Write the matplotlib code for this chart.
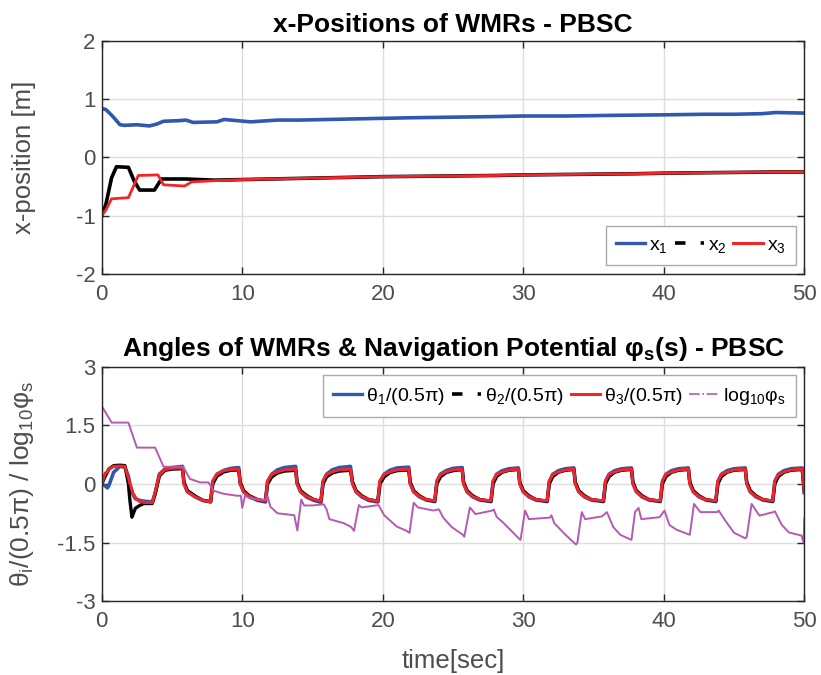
import matplotlib
matplotlib.use("Agg")
import matplotlib.pyplot as plt
from matplotlib.lines import Line2D

plt.rcParams["font.family"] = ["Liberation Sans", "DejaVu Sans"]
plt.rcParams["mathtext.fontset"] = "custom"
plt.rcParams["mathtext.rm"] = "Liberation Sans"
plt.rcParams["mathtext.it"] = "Liberation Sans"
plt.rcParams["mathtext.bf"] = "Liberation Sans:bold"
plt.rcParams["axes.unicode_minus"] = False

# ---- top plot: x-positions ----
t_x1 = [0, 0.3, 0.8, 1.3, 1.6, 2.5, 3.4, 3.9, 4.4, 5.5, 6.0, 6.5, 8.2, 8.7, 10.6,
        12.5, 14, 16, 18, 20, 22, 25, 28, 30, 33, 36, 40, 43, 45, 47, 48, 50]
x1 = [0.84, 0.82, 0.7, 0.56, 0.55, 0.56, 0.54, 0.57, 0.62, 0.63, 0.64, 0.60, 0.61, 0.65, 0.61,
      0.64, 0.64, 0.65, 0.66, 0.67, 0.68, 0.69, 0.70, 0.71, 0.71, 0.72, 0.73, 0.74, 0.74, 0.75, 0.77, 0.76]

t_x2 = [0, 0.3, 0.7, 1.05, 1.9, 2.3, 2.7, 3.75, 4.25, 6.0, 8, 10, 12, 14, 16, 18, 20,
        24, 28, 30, 34, 38, 40, 44, 48, 50]
x2 = [-1.0, -0.8, -0.35, -0.16, -0.17, -0.4, -0.56, -0.56, -0.37, -0.37, -0.39, -0.38, -0.37,
      -0.36, -0.35, -0.34, -0.33, -0.32, -0.31, -0.30, -0.29, -0.28, -0.27, -0.26, -0.25, -0.25]

t_x3 = [0, 0.3, 0.7, 1.9, 2.6, 4.0, 4.4, 5.9, 6.4, 8, 10, 12, 14, 16, 18, 20,
        24, 28, 30, 34, 38, 40, 44, 48, 50]
x3 = [-1.0, -0.9, -0.71, -0.69, -0.31, -0.30, -0.47, -0.49, -0.42, -0.40, -0.38, -0.37,
      -0.36, -0.35, -0.34, -0.33, -0.32, -0.31, -0.30, -0.29, -0.28, -0.27, -0.26, -0.25, -0.25]

# ---- bottom plot: angles (shared time knots) ----
t_th = [0, 0.25, 0.4, 0.5, 0.85, 1.3, 1.65, 1.9, 2.0, 2.15, 2.2, 2.4, 2.7, 3.0, 3.6,
        3.8, 4.1, 4.5, 5.0, 5.75,
        5.85, 6.1, 6.7, 7.2, 7.75, 7.9, 8.2, 8.7, 9.2, 9.75,
        9.85, 10.1, 10.5, 11.1, 11.65, 11.8, 12.1, 12.5, 13.0, 13.8,
        13.9, 14.15, 14.6, 15.1, 15.6, 15.75, 16.0, 16.4, 16.9, 17.7,
        17.85, 18.1, 18.5, 19.0, 19.65, 19.8, 20.1, 20.5, 21.0, 21.85,
        21.95, 22.2, 22.6, 23.1, 23.7, 23.85, 24.1, 24.5, 25.0, 25.65,
        25.75, 26.0, 26.4, 26.9, 27.7, 27.85, 28.1, 28.5, 29.0, 29.65,
        29.75, 30.0, 30.4, 30.9, 31.7, 31.85, 32.1, 32.5, 33.0, 33.6,
        33.7, 33.95, 34.35, 34.85, 35.7, 35.85, 36.1, 36.5, 37.0, 37.7,
        37.8, 38.05, 38.45, 38.95, 39.75, 39.9, 40.15, 40.55, 41.05, 41.75,
        41.85, 42.1, 42.5, 43.0, 43.7, 43.85, 44.1, 44.5, 45.0, 45.8,
        45.9, 46.15, 46.55, 47.05, 47.75, 47.9, 48.15, 48.55, 49.05, 49.85,
        50.0]

th1 = [0, -0.05, -0.1, -0.05, 0.3, 0.45, 0.43, 0.2, 0.0, -0.2, -0.25, -0.38, -0.42, -0.44, -0.46,
       -0.25, 0.25, 0.38, 0.42, 0.45,
       0.02, -0.2, -0.34, -0.42, -0.46, 0.06, 0.25, 0.35, 0.40, 0.42,
       0.02, -0.2, -0.33, -0.42, -0.46, 0.06, 0.25, 0.36, 0.42, 0.45,
       0.02, -0.2, -0.34, -0.42, -0.47, 0.06, 0.25, 0.36, 0.42, 0.45,
       0.02, -0.2, -0.33, -0.42, -0.46, 0.06, 0.25, 0.35, 0.41, 0.43,
       0.02, -0.2, -0.33, -0.41, -0.45, 0.06, 0.25, 0.34, 0.40, 0.42,
       0.02, -0.2, -0.33, -0.41, -0.45, 0.06, 0.25, 0.34, 0.39, 0.41,
       0.02, -0.2, -0.33, -0.41, -0.45, 0.06, 0.25, 0.34, 0.39, 0.41,
       0.02, -0.2, -0.33, -0.41, -0.45, 0.06, 0.25, 0.34, 0.39, 0.41,
       0.02, -0.2, -0.33, -0.41, -0.45, 0.06, 0.25, 0.34, 0.39, 0.41,
       0.02, -0.2, -0.33, -0.41, -0.45, 0.06, 0.25, 0.34, 0.39, 0.41,
       0.02, -0.2, -0.33, -0.41, -0.45, 0.06, 0.25, 0.34, 0.39, 0.41,
       -0.22]

th2 = [0, 0.2, 0.3, 0.38, 0.47, 0.48, 0.47, 0.0, -0.4, -0.85, -0.8, -0.62, -0.55, -0.5, -0.5,
       -0.25, 0.2, 0.35, 0.38, 0.39,
       0.05, -0.17, -0.32, -0.42, -0.45, 0.0, 0.2, 0.31, 0.35, 0.36,
       0.05, -0.17, -0.30, -0.40, -0.44, 0.0, 0.18, 0.28, 0.33, 0.35,
       0.05, -0.17, -0.30, -0.40, -0.44, 0.0, 0.18, 0.28, 0.33, 0.35,
       0.05, -0.17, -0.30, -0.40, -0.44, 0.0, 0.18, 0.29, 0.34, 0.36,
       0.05, -0.17, -0.30, -0.40, -0.44, 0.0, 0.18, 0.29, 0.34, 0.37,
       0.05, -0.17, -0.30, -0.40, -0.44, 0.0, 0.19, 0.30, 0.35, 0.37,
       0.05, -0.17, -0.30, -0.40, -0.44, 0.0, 0.19, 0.30, 0.35, 0.37,
       0.05, -0.17, -0.30, -0.40, -0.44, 0.0, 0.19, 0.30, 0.35, 0.37,
       0.05, -0.17, -0.30, -0.40, -0.44, 0.0, 0.19, 0.30, 0.35, 0.37,
       0.05, -0.17, -0.30, -0.40, -0.44, 0.0, 0.19, 0.30, 0.35, 0.37,
       0.05, -0.17, -0.30, -0.40, -0.44, 0.0, 0.19, 0.30, 0.35, 0.37,
       -0.2]

th3 = [0, 0.28, 0.3, 0.38, 0.45, 0.46, 0.45, 0.15, 0.02, -0.15, -0.22, -0.35, -0.45, -0.47, -0.48,
       -0.2, 0.22, 0.37, 0.40, 0.41,
       0.0, -0.2, -0.34, -0.42, -0.46, 0.08, 0.25, 0.34, 0.37, 0.38,
       0.0, -0.2, -0.32, -0.40, -0.44, 0.08, 0.24, 0.31, 0.36, 0.38,
       0.0, -0.2, -0.32, -0.40, -0.44, 0.08, 0.24, 0.31, 0.36, 0.38,
       0.0, -0.2, -0.32, -0.40, -0.44, 0.08, 0.24, 0.31, 0.36, 0.38,
       0.0, -0.2, -0.32, -0.40, -0.43, 0.08, 0.24, 0.31, 0.36, 0.38,
       0.0, -0.2, -0.32, -0.40, -0.43, 0.08, 0.24, 0.31, 0.36, 0.38,
       0.0, -0.2, -0.32, -0.40, -0.43, 0.08, 0.24, 0.31, 0.36, 0.38,
       0.0, -0.2, -0.32, -0.40, -0.43, 0.08, 0.24, 0.31, 0.36, 0.38,
       0.0, -0.2, -0.32, -0.40, -0.43, 0.08, 0.24, 0.31, 0.36, 0.38,
       0.0, -0.2, -0.32, -0.40, -0.43, 0.08, 0.24, 0.31, 0.36, 0.38,
       0.0, -0.2, -0.32, -0.40, -0.43, 0.08, 0.24, 0.31, 0.36, 0.38,
       -0.21]

# navigation potential log10(phi_s)
t_phi = [0, 0.71, 1.9, 2.5, 3.8, 4.4, 5.8, 6.28, 7.0, 7.6, 7.95, 8.65, 9.6, 9.9, 10.0, 10.2,
         10.5, 11.1, 11.7, 11.8, 12.0, 12.5, 13.7, 13.92, 14.2, 14.4, 15.0, 15.8, 16.0, 16.2,
         17.2, 17.75, 17.95, 18.3, 18.5, 19.7, 20.1, 21.0, 21.7, 21.9, 22.2, 22.5, 23.6, 24.0,
         24.3, 24.9, 25.7, 25.8, 26.2, 26.6, 27.8, 27.9, 28.1, 28.6, 29.7, 29.8, 30.13, 30.4,
         31.9, 32.0, 32.2, 33.0, 33.75, 33.85, 34.16, 34.4, 35.6, 35.95, 36.4, 36.9, 37.7,
         37.95, 38.2, 38.4, 39.7, 40.05, 40.4, 40.9, 41.7, 41.85, 42.15, 42.6, 43.8, 43.9,
         44.4, 45.0, 45.8, 45.9, 46.25, 46.8, 47.8, 47.9, 48.4, 48.9, 49.8, 49.95, 50.0]
log_phi = [1.99, 1.57, 1.57, 0.93, 0.93, 0.44, 0.44, 0.13, 0.04, 0.04, -0.17, -0.25, -0.3, -0.3,
           -0.61, -0.3, -0.36, -0.4, -0.4, -0.31, -0.58, -0.75, -0.8, -1.19, -0.40, -0.55, -0.55,
           -0.52, -0.65, -0.9, -1.0, -1.1, -1.2, -0.54, -0.6, -0.54, -0.8, -1.09, -1.2, -1.25,
           -0.48, -0.6, -0.68, -0.65, -0.86, -1.1, -1.3, -1.35, -0.6, -0.77, -0.68, -0.65, -0.84,
           -1.0, -1.4, -1.43, -0.68, -0.9, -0.86, -0.8, -1.0, -1.3, -1.55, -1.5, -0.72, -0.9,
           -0.83, -0.72, -1.1, -1.3, -1.43, -0.72, -0.61, -0.9, -0.85, -0.68, -1.05, -1.17,
           -1.28, -1.3, -0.51, -0.72, -0.72, -0.68, -0.95, -1.25, -1.39, -1.35, -0.51, -0.81,
           -0.72, -0.7, -1.05, -1.24, -1.32, -1.5, -0.88]

blue = "#2F58AE"
black = "#000000"
red = "#F0262B"
purple = "#B35BB0"
txt = "#4D4D4D"
grid_c = "#DDDDDD"

fig = plt.figure(figsize=(8.21, 6.75), dpi=100)
ax1 = fig.add_axes([0.1239, 0.594, 0.8558, 0.3456])
ax2 = fig.add_axes([0.1239, 0.1093, 0.8558, 0.3474])


def style(ax):
    ax.set_xlim(0, 50)
    ax.set_xticks([0, 10, 20, 30, 40, 50])
    ax.grid(True, color=grid_c, linewidth=1.0)
    ax.set_axisbelow(True)
    ax.tick_params(direction="in", top=True, right=True, length=5, width=1,
                   labelsize=16, colors="#262626", labelcolor=txt)
    ax.tick_params(axis="y", pad=4.5)
    ax.tick_params(axis="x", pad=7)
    for s in ax.spines.values():
        s.set_color("#262626")
        s.set_linewidth(1.0)


def legend(ax, handles, labels, loc):
    leg = ax.legend(handles, labels, loc=loc, ncol=len(handles), fontsize=14,
                    handlelength=1.5, handletextpad=0.2, columnspacing=0.35,
                    fancybox=False, framealpha=1, edgecolor="#AAAAAA",
                    borderaxespad=0.45, borderpad=0.52)
    leg.get_frame().set_linewidth(1.0)
    return leg


def handles(n):
    h = [Line2D([], [], color=blue, lw=2.4),
         Line2D([], [], color=black, lw=2.6, ls=(0, (2.9, 4.2))),
         Line2D([], [], color=red, lw=2.2),
         Line2D([], [], color=purple, lw=1.2, ls="-.")]
    return h[:n]


ax1.plot(t_x1, x1, color=blue, lw=2.6)
ax1.plot(t_x2, x2, color=black, lw=2.6)
ax1.plot(t_x3, x3, color=red, lw=2.0)
style(ax1)
ax1.set_ylim(-2, 2)
ax1.set_yticks([-2, -1, 0, 1, 2])
ax1.set_ylabel("x-position [m]", fontsize=18.5, color=txt)
ax1.yaxis.set_label_coords(-0.093, 0.5)
ax1.set_title("x-Positions of WMRs - PBSC", fontsize=19, fontweight="bold", pad=6)
legend(ax1, handles(3), [r"x$_1$", r"x$_2$", r"x$_3$"], "lower right")

ax2.plot(t_th, th1, color=blue, lw=2.6)
ax2.plot(t_th, th2, color=black, lw=2.4)
ax2.plot(t_th, th3, color=red, lw=2.2)
ax2.plot(t_phi, log_phi, color=purple, lw=1.4)
style(ax2)
ax2.set_ylim(-3, 3)
ax2.set_yticks([-3, -1.5, 0, 1.5, 3])
ax2.set_yticklabels(["-3", "-1.5", "0", "1.5", "3"])
ax2.set_xlabel("time[sec]", fontsize=18.5, color=txt, va="top")
ax2.xaxis.set_label_coords(0.5, -0.205)
ax2.set_ylabel(r"θ$_i$/(0.5π) / log$_{10}$φ$_s$", fontsize=19, color=txt)
ax2.yaxis.set_label_coords(-0.093, 0.5)
ax2.set_title(r"Angles of WMRs & Navigation Potential φ$_\mathbf{s}$(s) - PBSC",
              fontsize=19, fontweight="bold", pad=8)
legend(ax2, handles(4),
       [r"θ$_1$/(0.5π)", r"θ$_2$/(0.5π)", r"θ$_3$/(0.5π)", r"log$_{10}$φ$_s$"],
       "upper right")

fig.savefig("out.png", dpi=100)
